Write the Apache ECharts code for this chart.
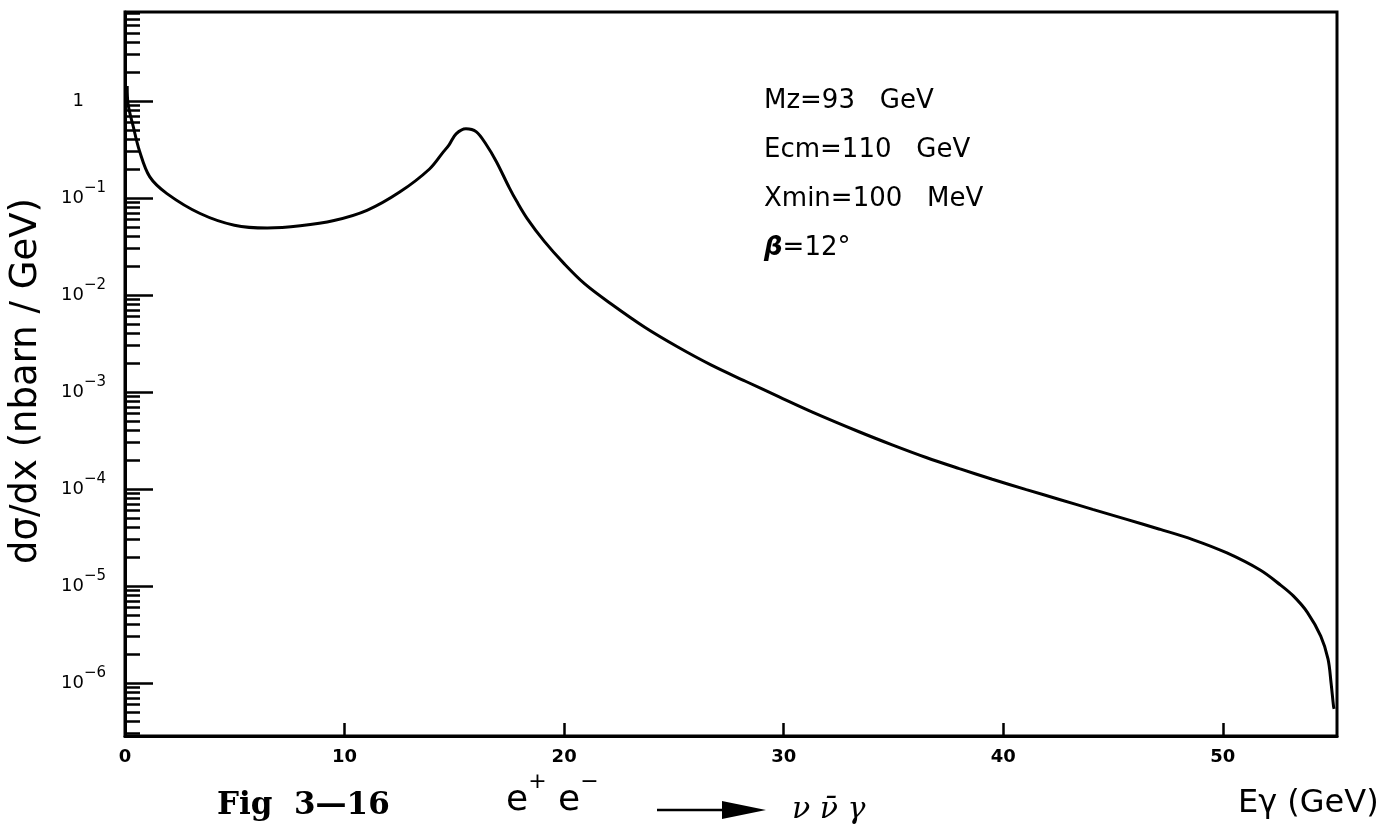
<!DOCTYPE html>
<html>
<head>
<meta charset="utf-8">
<script src="https://cdn.jsdelivr.net/npm/echarts@6/dist/echarts.min.js"></script>
<style>
  html, body { margin: 0; padding: 0; background: #fff; }
  #chart { width: 1388px; height: 832px; }
</style>
</head>
<body>
<div id="chart"></div>
<script>
// Photon energy E_gamma (GeV)
const photonEnergy = [
  0.10, 0.14, 0.38, 0.66, 1.13, 1.91, 3.42, 4.98, 6.48, 7.98,
  9.52, 11.02, 12.51, 13.87, 14.50, 14.76, 15.08, 15.53, 15.99, 16.45,
  16.91, 17.50, 17.84, 18.31, 19.09, 20.02, 20.94, 22.13, 23.69, 25.20,
  26.71, 28.26, 29.77, 31.28, 33.43, 34.94, 36.49, 38.00, 39.50, 41.05,
  42.56, 44.07, 45.62, 47.12, 48.63, 50.19, 51.70, 52.61, 53.21, 53.85,
  54.46, 54.79, 54.93, 55.04, 55.07
];
// d sigma / dx (nbarn / GeV)
const crossSection = [
  1.43, 0.93, 0.54, 0.306, 0.165, 0.111, 0.0692, 0.0524, 0.0490, 0.0516,
  0.0585, 0.0745, 0.115, 0.199, 0.299, 0.353, 0.459, 0.518, 0.483, 0.356,
  0.238, 0.128, 0.0923, 0.0617, 0.0359, 0.0208, 0.0130, 0.00812, 0.00462, 0.00289,
  0.00189, 0.00129, 8.95e-4, 6.24e-4, 3.89e-4, 2.85e-4, 2.11e-4, 1.62e-4, 1.26e-4, 9.86e-5,
  7.80e-5, 6.17e-5, 4.86e-5, 3.85e-5, 3.01e-5, 2.19e-5, 1.46e-5, 1.03e-5, 7.9e-6, 5.35e-6,
  3.04e-6, 1.77e-6, 1.0e-6, 5.8e-7, 5.4e-7
];
// Axis ticks
const xTicks = [0, 10, 20, 30, 40, 50];
const yTickExponents = [-6, -5, -4, -3, -2, -1, 0];
// Run parameters printed inside the frame
const runParameters = ['Mz=93   GeV', 'Ecm=110   GeV', 'Xmin=100   MeV', '{g|β}=12°'];

const X_MAX = 55.2;
const Y_MIN = 2.84e-7;
const Y_MAX = 8.27;

const majorTicks = yTickExponents.map(e => Number('1e' + e));
const minorTicks = [];
for (let e = -7; e <= 0; e++) {
  for (let m = 2; m <= 9; m++) {
    const v = Number(m + 'e' + e);
    if (v >= Y_MIN && v <= Y_MAX) minorTicks.push(v);
  }
}

const black = '#000';
const sans = 'DejaVu Sans';

const chart = echarts.init(document.getElementById('chart'), null, { renderer: 'canvas' });

const graphics = [];
runParameters.forEach((t, i) => {
  graphics.push({
    type: 'text', x: 764, y: 101 + i * 49, silent: true,
    style: {
      text: t, fill: black, font: '26px "DejaVu Sans"',
      verticalAlign: 'middle', textVerticalAlign: 'middle',
      rich: { g: { fontFamily: sans, fontSize: 26, fontStyle: 'italic', fontWeight: 'bold' } }
    }
  });
});
graphics.push(
  {
    type: 'text', x: 217, y: 806, silent: true,
    style: { text: 'Fig  3—16', fill: black, font: 'bold 31px "DejaVu Serif"',
             verticalAlign: 'middle', textVerticalAlign: 'middle' }
  },
  {
    type: 'text', x: 506, y: 801, silent: true,
    style: {
      text: '{e|e}{s|+}{e| e}{s|−}', fill: black,
      verticalAlign: 'middle', textVerticalAlign: 'middle',
      rich: {
        e: { fontFamily: sans, fontSize: 36, lineHeight: 60 },
        s: { fontFamily: sans, fontSize: 22, lineHeight: 18, verticalAlign: 'top' }
      }
    }
  },
  {
    type: 'line', silent: true,
    shape: { x1: 657, y1: 810, x2: 728, y2: 810 },
    style: { stroke: black, lineWidth: 2.5 }
  },
  {
    type: 'polygon', silent: true,
    shape: { points: [[722, 801], [766, 810], [722, 819]] },
    style: { fill: black }
  },
  {
    type: 'text', x: 792, y: 810, silent: true,
    style: { text: 'ν ν\u0304 γ', fill: black, font: 'italic 30px "DejaVu Serif"',
             verticalAlign: 'middle', textVerticalAlign: 'middle' }
  }
);

const option = {
  animation: false,
  backgroundColor: '#fff',
  grid: {
    left: 125, right: 51, top: 12, bottom: 96,
    show: true, borderColor: black, borderWidth: 3, backgroundColor: 'transparent'
  },
  xAxis: {
    type: 'value', min: 0, max: X_MAX,
    axisLine: { onZero: false, lineStyle: { color: black, width: 3 } },
    axisTick: { customValues: xTicks, inside: true, length: 13, lineStyle: { color: black, width: 2.5 } },
    axisLabel: { customValues: xTicks, color: black, fontFamily: sans, fontWeight: 'bold', fontSize: 18, margin: 12 },
    splitLine: { show: false },
    name: 'Eγ (GeV)', nameLocation: 'end', nameGap: -99,
    nameTextStyle: { color: black, fontFamily: sans, fontSize: 32, align: 'left', verticalAlign: 'top', padding: [52, 0, 0, 0] }
  },
  yAxis: [
    {
      type: 'log', logBase: 10, min: Y_MIN, max: Y_MAX,
      axisLine: { show: true, lineStyle: { color: black, width: 3 } },
      axisTick: { customValues: majorTicks, inside: true, length: 28, lineStyle: { color: black, width: 2.5 } },
      minorTick: { show: false },
      axisLabel: {
        customValues: majorTicks, margin: 19, color: black,
        formatter: function (v) {
          const e = Math.round(Math.log10(v));
          return e === 0 ? '{one|1}' : '{b|10}{s|−' + (-e) + '}';
        },
        rich: {
          one: { fontFamily: sans, fontSize: 18, lineHeight: 34, padding: [0, 22, 0, 0] },
          b: { fontFamily: sans, fontSize: 18, lineHeight: 34 },
          s: { fontFamily: sans, fontSize: 15, lineHeight: 14, verticalAlign: 'top' }
        }
      },
      splitLine: { show: false },
      name: 'dσ/dx (nbarn / GeV)', nameLocation: 'middle', nameRotate: 90, nameGap: 80,
      nameTextStyle: { color: black, fontFamily: sans, fontSize: 37, padding: [0, 14, 0, 0] }
    },
    {
      type: 'log', logBase: 10, min: Y_MIN, max: Y_MAX, position: 'left',
      axisLine: { show: false },
      axisTick: { customValues: minorTicks, inside: true, length: 15, lineStyle: { color: black, width: 2.5 } },
      minorTick: { show: false },
      axisLabel: { show: false },
      splitLine: { show: false }
    }
  ],
  series: [{
    type: 'line',
    data: photonEnergy.map((e, i) => [e, crossSection[i]]),
    showSymbol: false,
    smooth: 0.35,
    lineStyle: { color: black, width: 3 },
    clip: true
  }],
  graphic: graphics
};

chart.setOption(option);
</script>
</body>
</html>
